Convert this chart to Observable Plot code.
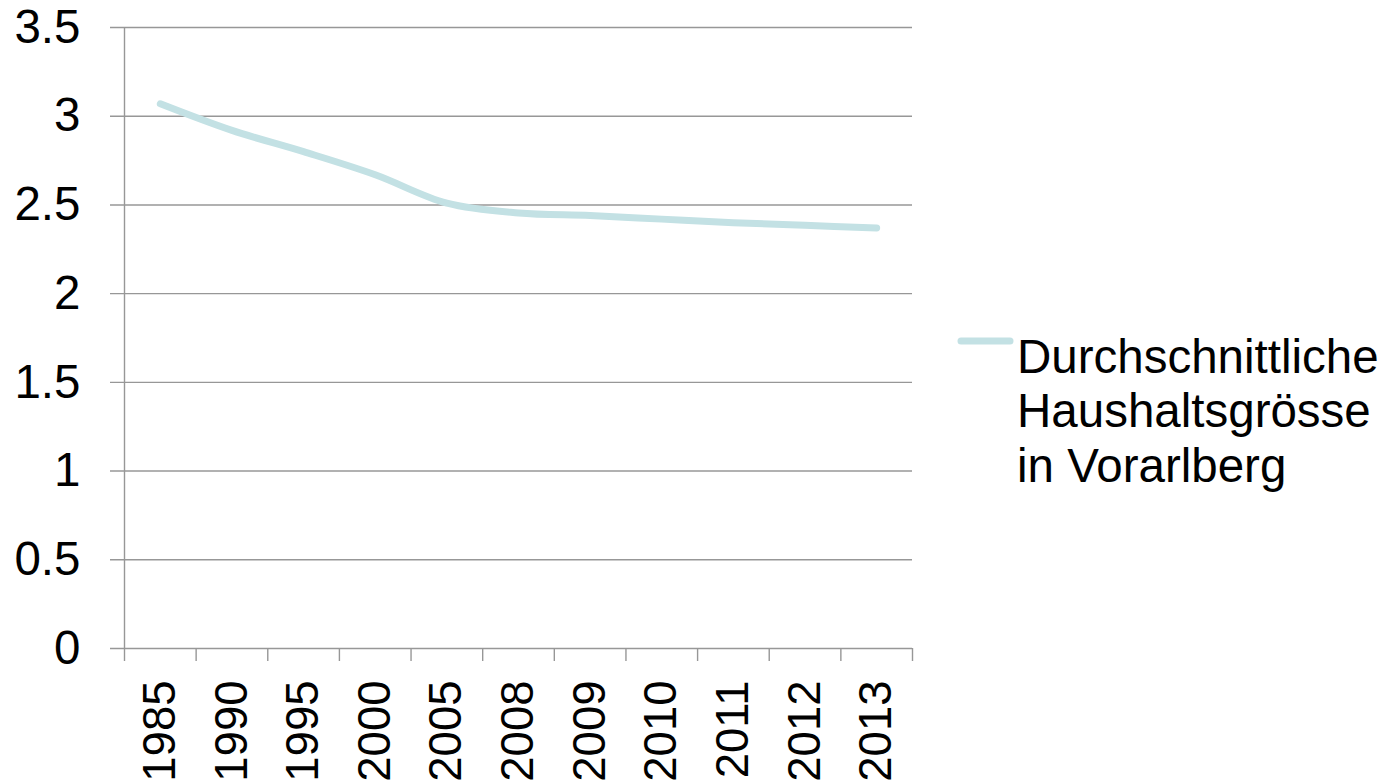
<!DOCTYPE html>
<html>
<head>
<meta charset="utf-8">
<script src="https://cdn.jsdelivr.net/npm/d3@7"></script>
<script src="https://cdn.jsdelivr.net/npm/@observablehq/plot@0.6"></script>
<style>
  html, body { margin: 0; padding: 0; background: #fff; overflow: hidden; }
  #wrap { position: relative; width: 1386px; height: 782px; }
  #legend { position: absolute; left: 0; top: 0; pointer-events: none; }
  #legend text { font-family: "Liberation Sans", Arial, sans-serif; font-size: 47.5px; fill: #000; }
</style>
</head>
<body>
<div id="wrap"></div>
<script>
const years = ["1985","1990","1995","2000","2005","2008","2009","2010","2011","2012","2013"];
const sizes = [3.07, 2.92, 2.80, 2.67, 2.51, 2.455, 2.44, 2.42, 2.40, 2.385, 2.37];
const yTicks = [0, 0.5, 1, 1.5, 2, 2.5, 3, 3.5];
const yTickLabels = ["0", "0.5", "1", "1.5", "2", "2.5", "3", "3.5"];
const seriesName = ["Durchschnittliche", "Haushaltsgrösse", "in Vorarlberg"];

const lineColor = "#c3e1e4";
const gridColor = "#979797";

const W = 1386, H = 782;
const mL = 124, mR = 474, mT = 27, mB = 134;
const half = (W - mL - mR) / years.length / 2;

const data = years.map((y, i) => ({year: y, value: sizes[i]}));

const plot = Plot.plot({
  width: W, height: H,
  marginLeft: mL, marginRight: mR, marginTop: mT, marginBottom: mB,
  style: {fontFamily: "'Liberation Sans', Arial, sans-serif", fontSize: "47px", color: "#000", background: "#fff", overflow: "visible"},
  x: {type: "point", domain: years, padding: 0.5, align: 0.5, round: false, label: null},
  y: {domain: [0, 3.5], label: null},
  marks: [
    Plot.ruleY(yTicks, {stroke: gridColor, strokeWidth: 1.4, insetLeft: -14}),
    Plot.ruleX([years[0]], {dx: -half, stroke: gridColor, strokeWidth: 1.4}),
    Plot.ruleX(years, {x: d => d, y1: 0, y2: 0, insetBottom: -13, dx: -half, stroke: gridColor, strokeWidth: 1.4}),
    Plot.ruleX([years[years.length - 1]], {x: d => d, y1: 0, y2: 0, insetBottom: -13, dx: half, stroke: gridColor, strokeWidth: 1.4}),
    Plot.axisY({ticks: yTicks, tickSize: 0, tickPadding: 44, fontSize: 47.5,
      tickFormat: d => yTickLabels[yTicks.indexOf(d)]}),
    Plot.axisX({tickSize: 0, tickRotate: -90, tickPadding: 32, fontSize: 45.5}),
    Plot.line(data, {x: "year", y: "value", stroke: lineColor, strokeWidth: 7,
      strokeLinecap: "round", strokeLinejoin: "round", curve: "catmull-rom"})
  ]
});

const wrap = document.getElementById("wrap");
wrap.appendChild(plot);

// legend (to the right of the plot)
const ns = "http://www.w3.org/2000/svg";
const lg = document.createElementNS(ns, "svg");
lg.setAttribute("id", "legend");
lg.setAttribute("width", W);
lg.setAttribute("height", H);
const sw = document.createElementNS(ns, "line");
sw.setAttribute("x1", 961); sw.setAttribute("x2", 1010);
sw.setAttribute("y1", 341); sw.setAttribute("y2", 341);
sw.setAttribute("stroke", lineColor);
sw.setAttribute("stroke-width", 7);
sw.setAttribute("stroke-linecap", "round");
lg.appendChild(sw);
seriesName.forEach((t, i) => {
  const tx = document.createElementNS(ns, "text");
  tx.setAttribute("x", 1017);
  tx.setAttribute("y", 373 + i * 54.4);
  tx.textContent = t;
  lg.appendChild(tx);
});
wrap.appendChild(lg);
</script>
</body>
</html>
